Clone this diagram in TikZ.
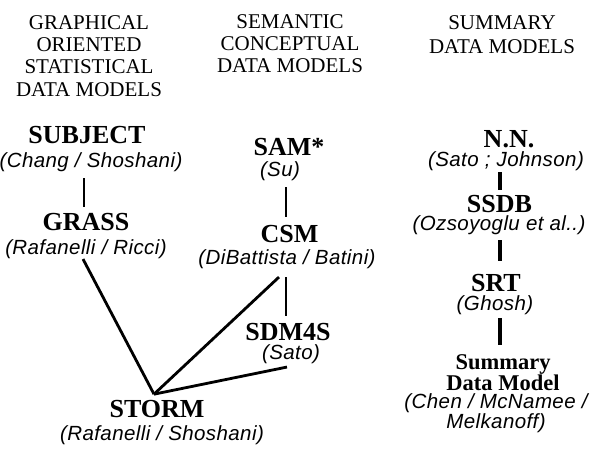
\documentclass[tikz,border=0pt]{standalone}
\usepackage{fontspec}
\setmainfont{Liberation Serif}
\newfontfamily\authfont[LetterSpace=2]{Liberation Sans}
\begin{document}
\begin{tikzpicture}[x=1pt,y=-1pt,
  hdr/.style={inner sep=0pt,anchor=north,align=center,font=\fontsize{21}{22.3}\selectfont},
  mname/.style={inner sep=0pt,anchor=base,font=\bfseries\fontsize{26}{26}\selectfont},
  mauth/.style={inner sep=0pt,anchor=base,font=\authfont\itshape\fontsize{20.5}{20}\selectfont},
  link/.style={line width=2.8pt},
  linkb/.style={line width=3.6pt}]
\useasboundingbox (0,0) rectangle (597,453);
% headers
\node[hdr] (h1) at (89,15) {GRAPHICAL\\ORIENTED\\STATISTICAL\\DATA MODELS};
\node[hdr] (h2) at (290,14) {SEMANTIC\\CONCEPTUAL\\DATA MODELS};
\node[hdr,font=\fontsize{21}{24}\selectfont] (h3) at (502,15) {SUMMARY\\DATA MODELS};
% column 1
\node[mname] (subjN) at (87,143) {SUBJECT};
\node[mauth] (subjA) at (91,167) {(Chang / Shoshani)};
\node[mname] (grassN) at (86,230) {GRASS};
\node[mauth] (grassA) at (86,254) {(Rafanelli / Ricci)};
\node[mname] (stormN) at (157,417) {STORM};
\node[mauth] (stormA) at (162,440) {(Rafanelli / Shoshani)};
% column 2
\node[mname] (samN) at (289,155) {SAM*};
\node[mauth] (samA) at (280,176) {(Su)};
\node[mname] (csmN) at (289.5,242) {CSM};
\node[mauth] (csmA) at (287,264) {(DiBattista / Batini)};
\node[mname] (sdmN) at (288,340) {SDM4S};
\node[mauth] (sdmA) at (291,359) {(Sato)};
% column 3
\node[mname] (nnN) at (509,147) {N.N.};
\node[mauth] (nnA) at (506,166) {(Sato ; Johnson)};
\node[mname] (ssdbN) at (499.5,212) {SSDB};
\node[mauth] (ssdbA) at (499,230) {(Ozsoyoglu et al..)};
\node[mname] (srtN) at (496,291) {SRT};
\node[mauth] (srtA) at (495,310) {(Ghosh)};
\node[mname,anchor=north,align=center,font=\bfseries\fontsize{22.5}{18}\selectfont] (sumN) at (503,354) {Summary\\Data Model};
\node[mauth,anchor=north,align=center,font=\authfont\itshape\fontsize{20.5}{20}\selectfont] (sumA) at (496,393) {(Chen / McNamee /\\Melkanoff)};
% connectors
\draw[link] ([shift={(-7,6.6)}]subjA.south) -- ([shift={(-2,-5.4)}]grassN.north);
\draw[link] ([shift={(-3,0.6)}]grassA.south) -- ([shift={(-3,-5.4)}]stormN.north);
\draw[link] ([shift={(-8,8.6)}]csmA.south) -- ([shift={(-3,-5.4)}]stormN.north);
\draw[link] ([shift={(-4,3.6)}]sdmA.south) -- ([shift={(-3,-5.4)}]stormN.north);
\draw[link,line width=2.4pt] ([shift={(-1,8.6)}]csmA.south) -- ([shift={(-2,-6.4)}]sdmN.north);
\draw[link,line width=2.4pt] ([shift={(6,6.6)}]samA.south) -- ([shift={(-3.5,-7.4)}]csmN.north);
\draw[linkb] ([shift={(-6,1.6)}]nnA.south) -- ([shift={(0.5,-4.4)}]ssdbN.north);
\draw[linkb] ([shift={(1,5.6)}]ssdbA.south) -- ([shift={(4,-12.4)}]srtN.north);
\draw[linkb] ([shift={(5,3.6)}]srtA.south) -- ([shift={(-3,-9)}]sumN.north);
\end{tikzpicture}
\end{document}
